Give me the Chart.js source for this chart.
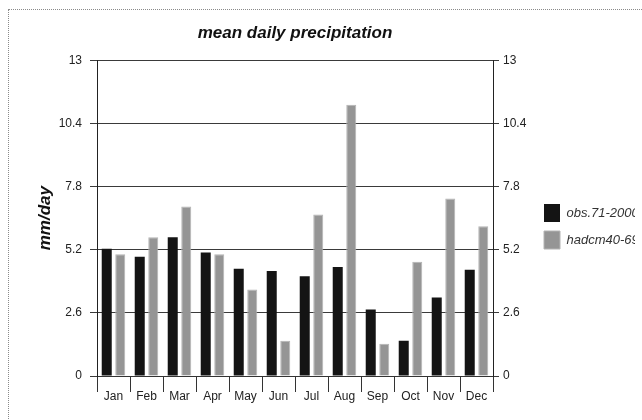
<!DOCTYPE html>
<html>
<head>
<meta charset="utf-8">
<script src="https://cdn.jsdelivr.net/npm/chart.js@4/dist/chart.umd.min.js"></script>
<style>
  html, body { margin: 0; padding: 0; background: #fff; overflow: hidden; width: 642px; height: 420px; }
  #frame { position: absolute; left: 8px; top: 9px; width: 1000px; height: 1000px; border: 1px dotted #8a8a8a; }
  #wrap { position: absolute; left: 0; top: 0; width: 650px; height: 460px; }
</style>
</head>
<body>
<div id="frame"></div>
<div id="wrap"><canvas id="c" width="650" height="460"></canvas></div>
<script>
const categories = ["Jan","Feb","Mar","Apr","May","Jun","Jul","Aug","Sep","Oct","Nov","Dec"];
const obsValues = [5.24, 4.91, 5.72, 5.09, 4.42, 4.33, 4.11, 4.49, 2.74, 1.45, 3.23, 4.38];
const hadcmValues = [5.02, 5.72, 6.98, 5.02, 3.56, 1.45, 6.65, 11.17, 1.33, 4.71, 7.31, 6.17];
const seriesNames = ["obs.71-2000", "hadcm40-69"];
const yTicks = [0, 2.6, 5.2, 7.8, 10.4, 13];
const chartTitle = "mean daily precipitation";
const yTitle = "mm/day";

const narrow = "'Liberation Sans Narrow', 'Liberation Sans', Arial, sans-serif";
const sans = "'Liberation Sans', Arial, sans-serif";

new Chart(document.getElementById('c'), {
  type: 'bar',
  data: {
    labels: categories,
    datasets: [
      { label: seriesNames[0], data: obsValues, backgroundColor: '#141414', borderColor: '#000', borderWidth: 0, yAxisID: 'y' },
      { label: seriesNames[1], data: hadcmValues, backgroundColor: '#959595', borderColor: '#b4b4b4', borderWidth: 1, yAxisID: 'y' }
    ]
  },
  options: {
    responsive: false,
    animation: false,
    categoryPercentage: 0.82,
    barPercentage: 0.74,
    layout: { padding: { left: 35, top: 23, right: 15, bottom: 30 } },
    plugins: {
      title: {
        display: true, text: chartTitle, fullSize: false,
        font: { family: sans, size: 17, weight: 'bold', style: 'italic' },
        color: '#111', padding: { top: 0, bottom: 17 }
      },
      legend: {
        display: true, position: 'right',
        labels: {
          boxWidth: 16, boxHeight: 18, padding: 9, color: '#333',
          font: { family: sans, size: 13, style: 'italic' }
        }
      },
      tooltip: { enabled: false }
    },
    scales: {
      x: {
        offset: true,
        afterFit: (s) => { s.height = 54; },
        grid: { display: true, drawOnChartArea: false, drawTicks: true, tickLength: 16, color: '#333', offset: true },
        border: { display: true, color: '#333' },
        ticks: { color: '#222', padding: -3, font: { family: narrow, size: 12 } }
      },
      y: {
        position: 'left', min: 0, max: 13,
        afterBuildTicks: (s) => { s.ticks = yTicks.map(v => ({ value: v })); },
        afterFit: (s) => { s.width = 62; },
        grid: { color: '#3a3a3a', lineWidth: 1, tickLength: 7 },
        border: { display: true, color: '#222' },
        ticks: { color: '#222', padding: 8, font: { family: narrow, size: 12 }, callback: (v) => String(v) },
        title: {
          display: true, text: yTitle, color: '#111',
          font: { family: sans, size: 17, weight: 'bold', style: 'italic' },
          padding: { top: 0, bottom: 0 }
        }
      },
      y2: {
        position: 'right', min: 0, max: 13,
        afterBuildTicks: (s) => { s.ticks = yTicks.map(v => ({ value: v })); },
        afterFit: (s) => { s.width = 42; },
        grid: { drawOnChartArea: false, color: '#3a3a3a', tickLength: 6 },
        border: { display: true, color: '#222' },
        ticks: { color: '#222', padding: 4, font: { family: narrow, size: 12 }, callback: (v) => String(v) }
      }
    }
  }
});
</script>
</body>
</html>
